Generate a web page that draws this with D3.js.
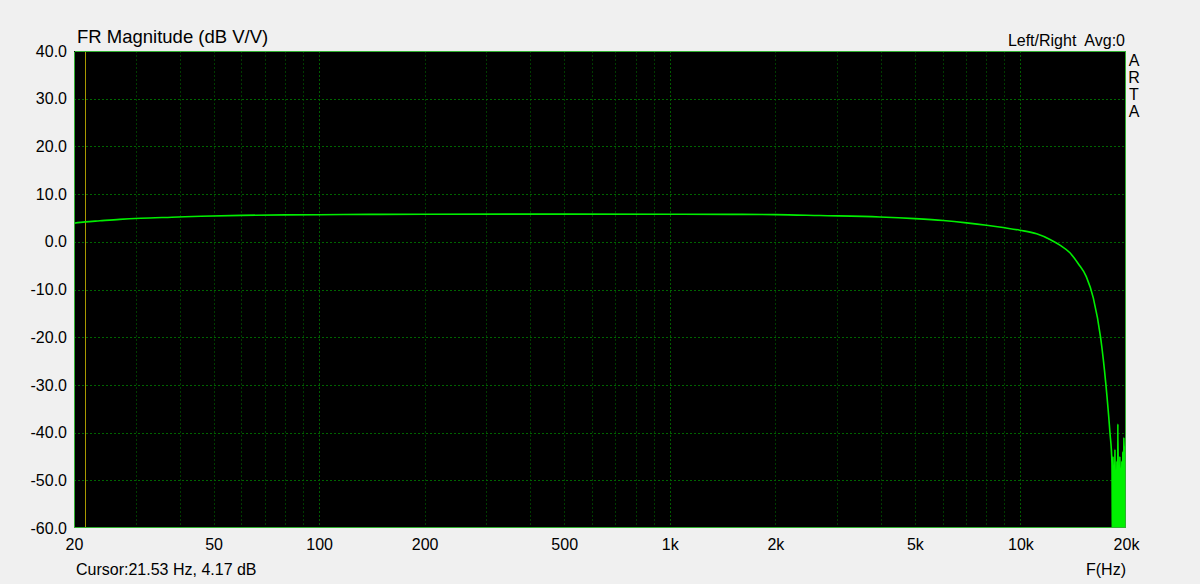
<!DOCTYPE html>
<html>
<head>
<meta charset="utf-8">
<script src="https://cdn.jsdelivr.net/npm/d3@7"></script>
<style>
  body { margin: 0; background: #f0f0f0; }
  svg { display: block; font-family: Arial, "Liberation Sans", sans-serif; }
</style>
</head>
<body>
<svg id="chart" width="1200" height="584"></svg>
<script>
// values
const freqHz = [20, 21.53, 23.7, 27, 31, 38, 46, 60, 80, 100, 140, 200, 500, 1000, 1500, 2000,
  2680, 3975, 5000, 6025, 7020, 8010, 9030, 9960, 11120, 12140, 12960, 13840, 14620, 15410, 16140,
  16930, 17530, 17990, 18240];
const magDb = [3.9, 4.17, 4.4, 4.7, 4.93, 5.15, 5.35, 5.55, 5.65, 5.68, 5.75, 5.78, 5.8, 5.78, 5.75, 5.7,
  5.5, 5.2, 4.85, 4.45, 3.97, 3.47, 2.93, 2.43, 1.68, 0.5, -0.7, -2.3, -4.6, -7.3, -11.8,
  -20.1, -30, -39.8, -46.4];

// noisy tail near 20 kHz, trace swings below the floor so it shows as filled
const tailHz = [18300, 18360, 18420, 18480, 18540, 18600, 18660, 18720, 18780, 18840, 18900, 18960,
  19020, 19090, 19150, 19210, 19270, 19340, 19400, 19460, 19520, 19590, 19650, 19720, 19780, 19850, 19920, 19990];
const tailDb = [-65, -45, -65, -47, -65, -43.5, -65, -48, -65, -46, -65, -38.2,
  -65, -47, -65, -45, -65, -47.5, -65, -46, -65, -44, -65, -41, -65, -43, -65, -42];

const xTickVals = [20, 50, 100, 200, 500, 1000, 2000, 5000, 10000, 20000];
const xTickLabels = ['20', '50', '100', '200', '500', '1k', '2k', '5k', '10k', '20k'];
const yTickVals = [40, 30, 20, 10, 0, -10, -20, -30, -40, -50, -60];
const cursorHz = 21.53;

const svg = d3.select('#chart');
const m = {left: 74, right: 1126, top: 51, bottom: 528};

const x = d3.scaleLog().domain([20, 20000]).range([m.left, m.right]);
const y = d3.scaleLinear().domain([-60, 40]).range([m.bottom, m.top]);

svg.append('defs').append('clipPath').attr('id', 'plotClip')
  .append('rect')
  .attr('x', m.left).attr('y', m.top)
  .attr('width', m.right - m.left).attr('height', m.bottom - m.top);

svg.append('rect')
  .attr('x', m.left).attr('y', m.top)
  .attr('width', m.right - m.left).attr('height', m.bottom - m.top)
  .attr('fill', '#000');

// grid lines
const minorFreqs = [];
for (const dec of [10, 100, 1000, 10000]) {
  for (let k = 1; k <= 9; k++) {
    const f = dec * k;
    if (f > 20 && f < 20000) minorFreqs.push(f);
  }
}

svg.append('g')
  .attr('shape-rendering', 'crispEdges')
  .selectAll('line')
  .data(minorFreqs)
  .join('line')
  .attr('x1', d => Math.round(x(d)) + 0.5).attr('x2', d => Math.round(x(d)) + 0.5)
  .attr('y1', m.top).attr('y2', m.bottom)
  .attr('stroke', d => [100, 1000, 10000].includes(d) ? '#005c00' : '#003c00')
  .attr('stroke-dasharray', '2,2');

svg.append('g')
  .attr('shape-rendering', 'crispEdges')
  .selectAll('line')
  .data(yTickVals.filter(d => d > -60 && d < 40))
  .join('line')
  .attr('x1', m.left).attr('x2', m.right)
  .attr('y1', d => Math.round(y(d)) + 0.5).attr('y2', d => Math.round(y(d)) + 0.5)
  .attr('stroke', '#006400')
  .attr('stroke-dasharray', '2,2');

// cursor
svg.append('line')
  .attr('shape-rendering', 'crispEdges')
  .attr('x1', Math.round(x(cursorHz)) + 0.5).attr('x2', Math.round(x(cursorHz)) + 0.5)
  .attr('y1', m.top).attr('y2', m.bottom)
  .attr('stroke', '#a89800').attr('stroke-width', 1);

// trace
const pts = freqHz.map((f, i) => [f, magDb[i]])
  .concat(tailHz.map((f, i) => [f, tailDb[i]]));

const line = d3.line()
  .curve(d3.curveMonotoneX)
  .x(d => x(d[0]))
  .y(d => y(d[1]));

svg.append('path')
  .datum(pts)
  .attr('clip-path', 'url(#plotClip)')
  .attr('d', line)
  .attr('fill', 'none')
  .attr('stroke', '#00ee00')
  .attr('stroke-width', 1.6)
  .attr('stroke-linejoin', 'round');

// fill under the noisy tail
const area = d3.area()
  .x(d => x(d[0]))
  .y0(y(-60))
  .y1(d => y(Math.max(d[1], -49)));

svg.append('path')
  .datum(tailHz.map((f, i) => [f, tailDb[i]]).filter(d => d[1] > -60))
  .attr('clip-path', 'url(#plotClip)')
  .attr('d', area)
  .attr('fill', '#00f000');

// frame
const frame = [
  [m.left + 0.5, m.top + 0.5, m.right - 0.5, m.top + 0.5],
  [m.left + 0.5, m.bottom - 0.5, m.right - 0.5, m.bottom - 0.5],
  [m.left + 0.5, m.top + 0.5, m.left + 0.5, m.bottom - 0.5],
  [m.right - 0.5, m.top + 0.5, m.right - 0.5, m.bottom - 0.5]
];
svg.append('g')
  .attr('shape-rendering', 'crispEdges')
  .selectAll('line')
  .data(frame)
  .join('line')
  .attr('x1', d => d[0]).attr('y1', d => d[1])
  .attr('x2', d => d[2]).attr('y2', d => d[3])
  .attr('stroke', '#30b030');

// axes
const yAxis = d3.axisLeft(y)
  .tickValues(yTickVals)
  .tickSize(0)
  .tickPadding(7)
  .tickFormat(d => d.toFixed(1));

svg.append('g')
  .attr('transform', `translate(${m.left},0)`)
  .call(yAxis)
  .call(g => g.select('.domain').remove())
  .call(g => g.selectAll('.tick line').remove())
  .call(g => g.selectAll('text')
    .attr('font-size', 16)
    .attr('font-family', 'Arial, "Liberation Sans", sans-serif')
    .attr('fill', '#000'));

const xAxis = d3.axisBottom(x)
  .tickValues(xTickVals)
  .tickSize(0)
  .tickPadding(11)
  .tickFormat((d, i) => xTickLabels[i]);

svg.append('g')
  .attr('transform', `translate(0,${m.bottom})`)
  .call(xAxis)
  .call(g => g.select('.domain').remove())
  .call(g => g.selectAll('.tick line').remove())
  .call(g => g.selectAll('text')
    .attr('font-size', 16)
    .attr('font-family', 'Arial, "Liberation Sans", sans-serif')
    .attr('fill', '#000'));

// texts
const txt = (s, tx, ty, anchor, size) => svg.append('text')
  .attr('x', tx).attr('y', ty)
  .attr('text-anchor', anchor || 'start')
  .attr('font-size', size || 16)
  .attr('fill', '#000')
  .text(s);

txt('FR Magnitude (dB V/V)', 77, 43, 'start', 18.5);
txt('Left/Right  Avg:0', 1125, 46, 'end').style('white-space', 'pre');
txt('Cursor:21.53 Hz, 4.17 dB', 76, 575);
txt('F(Hz)', 1126, 575, 'end');

['A', 'R', 'T', 'A'].forEach((c, i) => txt(c, 1134, 66 + i * 17, 'middle'));
</script>
</body>
</html>
